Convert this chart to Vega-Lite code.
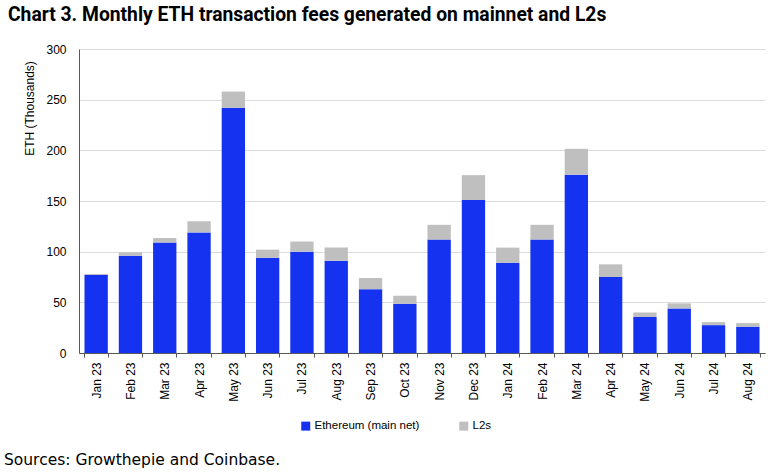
{
  "$schema": "https://vega.github.io/schema/vega-lite/v6.json",
  "padding": {"left": 3, "top": 5, "right": 5, "bottom": 3},
  "background": "white",
  "title": {
    "text": "Chart 3. Monthly ETH transaction fees generated on mainnet and L2s",
    "anchor": "start",
    "font": "Roboto",
    "fontSize": 19.3,
    "fontWeight": "bold",
    "color": "#000000",
    "dx": 4,
    "offset": 18
  },
  "datasets": {
    "fees": [
      {"month": "Jan 23", "series": "Ethereum (main net)", "eth": 77},
      {"month": "Jan 23", "series": "L2s", "eth": 1},
      {"month": "Feb 23", "series": "Ethereum (main net)", "eth": 96},
      {"month": "Feb 23", "series": "L2s", "eth": 3.5},
      {"month": "Mar 23", "series": "Ethereum (main net)", "eth": 109},
      {"month": "Mar 23", "series": "L2s", "eth": 4.5},
      {"month": "Apr 23", "series": "Ethereum (main net)", "eth": 119},
      {"month": "Apr 23", "series": "L2s", "eth": 11},
      {"month": "May 23", "series": "Ethereum (main net)", "eth": 242},
      {"month": "May 23", "series": "L2s", "eth": 16},
      {"month": "Jun 23", "series": "Ethereum (main net)", "eth": 94},
      {"month": "Jun 23", "series": "L2s", "eth": 8},
      {"month": "Jul 23", "series": "Ethereum (main net)", "eth": 100},
      {"month": "Jul 23", "series": "L2s", "eth": 10},
      {"month": "Aug 23", "series": "Ethereum (main net)", "eth": 91},
      {"month": "Aug 23", "series": "L2s", "eth": 13},
      {"month": "Sep 23", "series": "Ethereum (main net)", "eth": 63},
      {"month": "Sep 23", "series": "L2s", "eth": 11},
      {"month": "Oct 23", "series": "Ethereum (main net)", "eth": 48.5},
      {"month": "Oct 23", "series": "L2s", "eth": 8},
      {"month": "Nov 23", "series": "Ethereum (main net)", "eth": 112},
      {"month": "Nov 23", "series": "L2s", "eth": 14.5},
      {"month": "Dec 23", "series": "Ethereum (main net)", "eth": 151},
      {"month": "Dec 23", "series": "L2s", "eth": 24.5},
      {"month": "Jan 24", "series": "Ethereum (main net)", "eth": 89},
      {"month": "Jan 24", "series": "L2s", "eth": 15},
      {"month": "Feb 24", "series": "Ethereum (main net)", "eth": 112},
      {"month": "Feb 24", "series": "L2s", "eth": 14.5},
      {"month": "Mar 24", "series": "Ethereum (main net)", "eth": 176},
      {"month": "Mar 24", "series": "L2s", "eth": 25.5},
      {"month": "Apr 24", "series": "Ethereum (main net)", "eth": 75},
      {"month": "Apr 24", "series": "L2s", "eth": 12.5},
      {"month": "May 24", "series": "Ethereum (main net)", "eth": 35.5},
      {"month": "May 24", "series": "L2s", "eth": 4.5},
      {"month": "Jun 24", "series": "Ethereum (main net)", "eth": 44},
      {"month": "Jun 24", "series": "L2s", "eth": 5},
      {"month": "Jul 24", "series": "Ethereum (main net)", "eth": 27.5},
      {"month": "Jul 24", "series": "L2s", "eth": 3},
      {"month": "Aug 24", "series": "Ethereum (main net)", "eth": 26},
      {"month": "Aug 24", "series": "L2s", "eth": 3.5}
    ]
  },
  "vconcat": [
    {
      "title": {
        "text": "Sources: Growthepie and Coinbase.",
        "orient": "bottom",
        "anchor": "start",
        "font": "DejaVu Sans",
        "fontSize": 15.5,
        "fontWeight": "normal",
        "color": "#000000",
        "dx": -20,
        "offset": 52
      },
      "width": 686,
      "height": 304,
      "data": {"name": "fees"},
      "mark": {"type": "bar"},
      "encoding": {
        "x": {
          "field": "month",
          "type": "ordinal",
          "sort": null,
          "scale": {"paddingInner": 0.32, "paddingOuter": 0.16},
          "axis": {
            "title": null,
            "labelAngle": -90,
            "tickBand": "extent",
            "ticks": true,
            "tickSize": 4,
            "tickColor": "#595959",
            "domainColor": "#595959",
            "labelPadding": 5,
            "grid": false
          }
        },
        "y": {
          "field": "eth",
          "type": "quantitative",
          "stack": "zero",
          "scale": {"domain": [0, 300], "nice": false},
          "axis": {
            "title": "ETH (Thousands)",
            "values": [0, 50, 100, 150, 200, 250, 300],
            "ticks": false,
            "labelPadding": 13,
            "grid": true,
            "gridColor": "#dcdcdc",
            "domain": true,
            "domainColor": "#595959",
            "titlePadding": 9,
            "titleY": 59
          }
        },
        "color": {
          "field": "series",
          "type": "nominal",
          "scale": {"domain": ["Ethereum (main net)", "L2s"], "range": ["#1432F0", "#BFBFBF"]},
          "legend": {
            "title": null,
            "orient": "none",
            "direction": "horizontal",
            "legendX": 221,
            "legendY": 371,
            "symbolType": "square",
            "symbolSize": 81,
            "symbolStrokeWidth": 0,
            "labelOffset": 3,
            "columnPadding": 38,
            "labelFont": "Liberation Sans",
            "labelFontSize": 11.5,
            "labelColor": "#000000"
          }
        },
        "order": {"field": "series", "sort": "ascending"}
      }
    }
  ],
  "config": {
    "view": {"stroke": null},
    "axis": {
      "labelFont": "Liberation Sans",
      "labelFontSize": 12,
      "labelColor": "#000000",
      "titleFont": "Liberation Sans",
      "titleFontSize": 12,
      "titleFontWeight": "normal",
      "titleColor": "#000000"
    }
  }
}
